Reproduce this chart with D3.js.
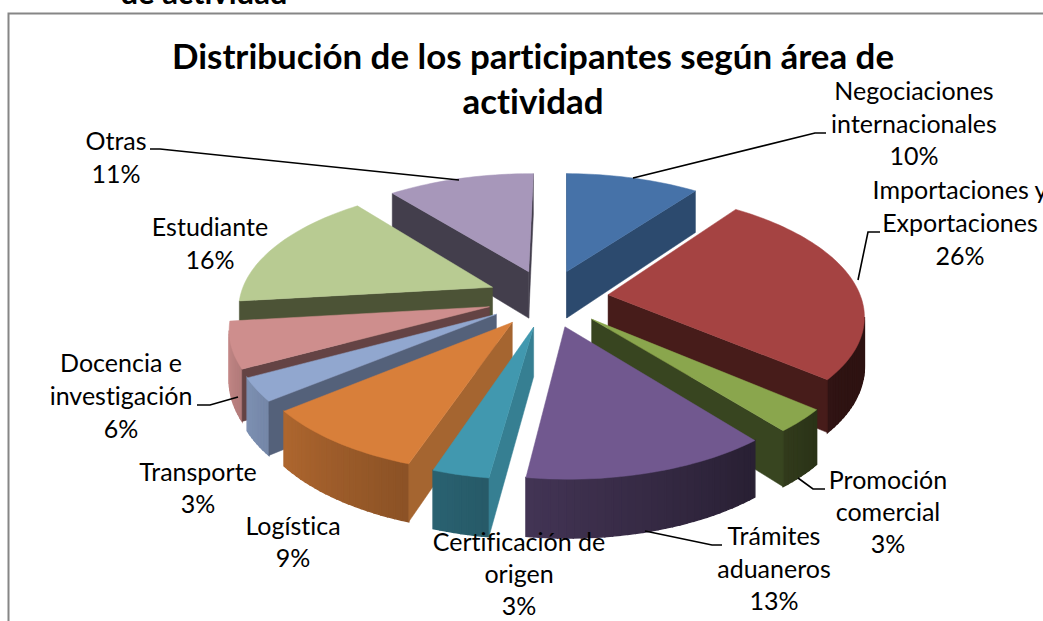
<!DOCTYPE html>
<html><head><meta charset="utf-8">
<style>html,body{margin:0;padding:0;background:#fff}svg{display:block}text{font-family:Lato,"Open Sans",sans-serif;fill:#000;font-variant-ligatures:none}</style>
<script src="https://cdn.jsdelivr.net/npm/d3@7/dist/d3.min.js"></script>
</head><body><svg id="c" width="1043" height="621"></svg>
<script>
const categories=["Negociaciones internacionales","Importaciones y Exportaciones","Promoción comercial","Trámites aduaneros","Certificación de origen","Logística","Transporte","Docencia e investigación","Estudiante","Otras"];
const values=[10,26,3,13,3,9,3,6,16,11];
const topColors=["#4672A8","#A54342","#8AA64D","#71588F","#4198AF","#D87F3A","#91A7CF","#CE8E8D","#B8CB92","#A797BA"];
const wallColors=["#2C4A6E","#471C1A","#384520","#2B2138","#367F92","#A56530","#54617A","#644344","#4C5336","#433E4C"];
const labelLines=[["Negociaciones","internacionales"],["Importaciones y","Exportaciones"],["Promoción","comercial"],["Trámites","aduaneros"],["Certificación de","origen"],["Logística"],["Transporte"],["Docencia e","investigación"],["Estudiante"],["Otras"]];
const labelX=[914,960,888,774,519,293,198,121,210,116];
const labelY=[92,191,481,537,543,527,473,364,228,142];
const lineGap=[32.5,33,32,32.5,32,32,32,33,33,33];
const leaders=[[[826,133],[815,133],[633,178]],[[880,232],[868,232],[858,280]],[[825,489],[813,489],[798,478]],[[722,545],[712,545],[645,531]],null,null,null,[[197,405],[210,405],[238,397]],null,[[150,149],[160,149],[459,180]]];
const titleLines=["Distribución de los participantes según área de","actividad"];

const svg=d3.select("#c");
svg.append("text").attr("x",204).attr("y",4).attr("text-anchor","middle").attr("font-weight",700).attr("font-size",31).text("de actividad");
svg.append("path").attr("d","M1043 13.5H8.5V621").attr("fill","none").attr("stroke","#868686").attr("stroke-width",2);

const cx=548,cy=298,R=253,H=120,k=0.15,depth=48,explode=0.24,rot=0.6*Math.PI/180;
function proj(u,v,z){const s=1/(1+k*v);return [cx+R*u*s,cy-H*v*s+z*depth*s];}
const arcs=d3.pie().value(d=>d).sort(null).startAngle(rot).endAngle(2*Math.PI+rot)(values);
const line=d3.line();
const area=p=>d3.polygonArea(p);
const deg=a=>a*180/Math.PI;
function rimShade(a){const t=deg(a);return Math.max(.28,Math.min(.95,.3+.005*(t-130)));}
const order=d3.range(values.length).sort((a,b)=>{const m=i=>(arcs[i].startAngle+arcs[i].endAngle)/2;return Math.cos(m(b))-Math.cos(m(a))});
const g=svg.append("g");
order.forEach(i=>{
  const d=arcs[i],mid=(d.startAngle+d.endAngle)/2;
  const ou=explode*Math.sin(mid),ov=explode*Math.cos(mid);
  const P=(a,r,z)=>proj(ou+r*Math.sin(a),ov+r*Math.cos(a),z);
  const n=Math.max(6,Math.ceil(deg(d.endAngle-d.startAngle)/1.5));
  const angs=d3.range(n+1).map(j=>d.startAngle+(d.endAngle-d.startAngle)*j/n);
  const base=d3.color(topColors[i]);
  d3.pairs(angs).forEach(([a,b])=>{
    const q=[P(a,1,0),P(b,1,0),P(b,1,1),P(a,1,1)];
    if(area(q)>0){
      const f=rimShade((a+b)/2);
      const col=d3.rgb(base.r*f,base.g*f,base.b*f).formatHex();
      g.append("path").attr("d",line(q)+"Z").attr("fill",col).attr("stroke",col).attr("stroke-width",1.4);
    }
  });
  [[d.startAngle,1],[d.endAngle,-1]].forEach(([a,sign])=>{
    const q=sign>0?[P(a,0,0),P(a,1,0),P(a,1,1),P(a,0,1)]:[P(a,1,0),P(a,0,0),P(a,0,1),P(a,1,1)];
    if(area(q)<0) return;
    g.append("path").attr("d",line(q)+"Z").attr("fill",wallColors[i]).attr("stroke",wallColors[i]).attr("stroke-width",.5);
  });
  const topPts=[P(0,0,0)].concat(angs.map(a=>P(a,1,0)));
  g.append("path").attr("d",line(topPts)+"Z").attr("fill",topColors[i]).attr("stroke",topColors[i]).attr("stroke-width",.5);
});
leaders.forEach(l=>{if(l)svg.append("path").attr("d",line(l)).attr("fill","none").attr("stroke","#000").attr("stroke-width",1.6);});
const fs=25;
labelLines.forEach((ls,i)=>{
  const all=ls.concat([values[i]+"%"]);
  all.forEach((t,j)=>svg.append("text").attr("x",labelX[i]).attr("y",labelY[i]+lineGap[i]*j+8).attr("text-anchor","middle").attr("font-size",fs).text(t));
});
titleLines.forEach((t,j)=>svg.append("text").attr("x",533).attr("y",[69,114][j]).attr("text-anchor","middle").attr("font-weight",700).attr("font-size",34.9).text(t));
</script></body></html>
